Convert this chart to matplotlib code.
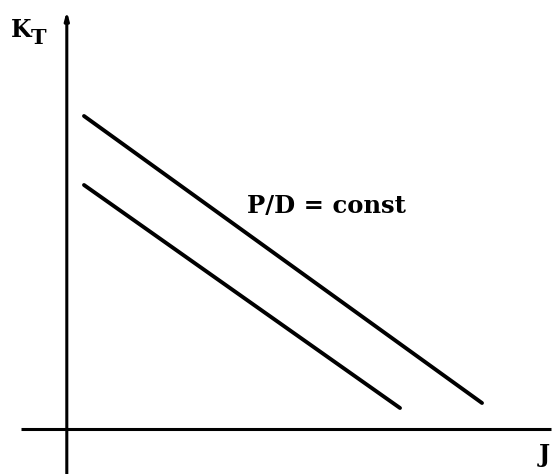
import matplotlib
matplotlib.use("Agg")
import matplotlib.pyplot as plt

# Schematic open-water diagram: thrust coefficient K_T versus advance ratio J
# for two propellers of constant pitch ratio P/D.
j_upper = [0.45, 10.4]
kt_upper = [7.825, 0.65]
j_lower = [0.45, 8.35]
kt_lower = [6.1, 0.525]

x_label = "J"
y_label_main = "K"
y_label_sub = "T"
curve_label = "P/D = const"

fig = plt.figure(figsize=(5.52, 4.74), dpi=100)
ax = fig.add_axes([0, 0, 1, 1])
ax.set_xlim(-1.65, 12.15)
ax.set_ylim(-1.125, 10.725)
ax.axis("off")

serif = ["DejaVu Serif"]

# coordinate axes
ax.plot([-1.125, 12.125], [0, 0], color="black", lw=2.2, solid_capstyle="butt")
ax.annotate("", xy=(0.02, 10.45), xytext=(0.02, -1.125),
            arrowprops=dict(arrowstyle="-|>,head_width=0.12,head_length=0.45",
                            lw=2.2, color="black", shrinkA=0, shrinkB=0))

# K_T - J lines
ax.plot(j_upper, kt_upper, color="black", lw=2.8, solid_capstyle="round")
ax.plot(j_lower, kt_lower, color="black", lw=2.8, solid_capstyle="round")

# labels
ax.text(-1.38, 9.97, y_label_main, fontsize=17, fontweight="bold", family=serif,
        ha="left", va="center")
ax.text(-0.87, 9.78, y_label_sub, fontsize=15, fontweight="bold", family=serif,
        ha="left", va="center")
ax.text(11.97, -0.65, x_label, fontsize=17, fontweight="bold", family=serif,
        ha="center", va="center")
ax.text(4.52, 5.58, curve_label, fontsize=17.5, fontweight="bold", family=serif,
        ha="left", va="center")

fig.savefig("out.png", dpi=100, facecolor="white")
